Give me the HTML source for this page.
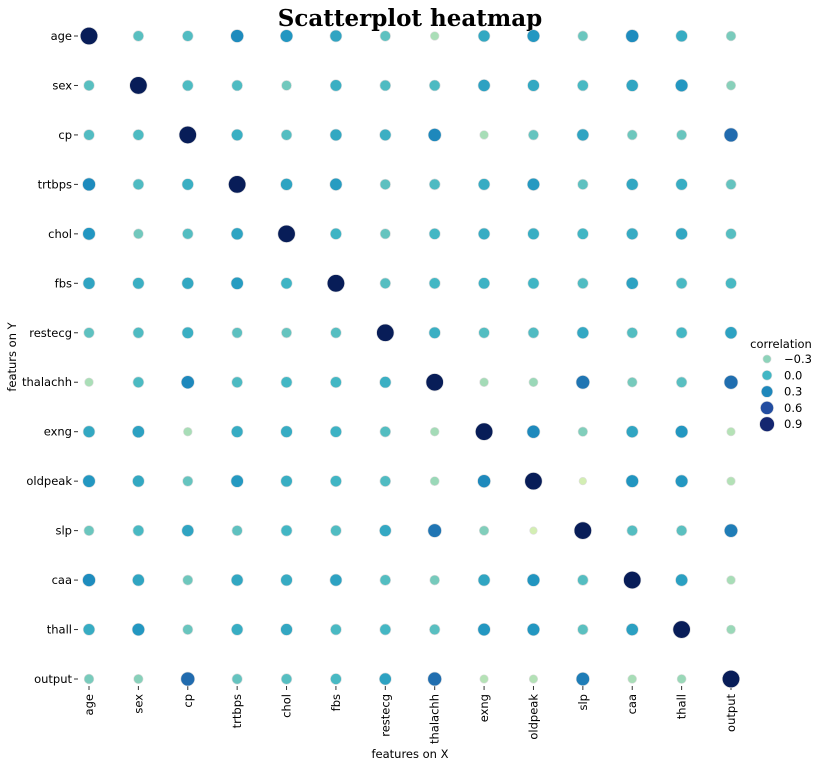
<!DOCTYPE html>
<html><head><meta charset="utf-8"><style>
body{margin:0;background:#fff;}
svg text{font-family:"DejaVu Sans","Liberation Sans",sans-serif;}
</style></head><body>
<svg id="chart" width="820" height="768" xmlns="http://www.w3.org/2000/svg">
<text x="410" y="26" text-anchor="middle" style="font-family:'DejaVu Serif','Liberation Serif',serif;font-weight:bold;font-size:23px">Scatterplot heatmap</text>
<g id="plot"></g>
<text x="410" y="758" text-anchor="middle" font-size="11.5">features on X</text>
<text transform="translate(16,357) rotate(-90)" text-anchor="middle" font-size="11.5">featurs on Y</text>
<g id="legend"></g>
</svg>
<script>
const features=["age","sex","cp","trtbps","chol","fbs","restecg","thalachh","exng","oldpeak","slp","caa","thall","output"];
const upper=[
[-0.098,-0.069,0.279,0.214,0.121,-0.116,-0.399,0.097,0.210,-0.169,0.276,0.068,-0.225],
[-0.049,-0.057,-0.198,0.045,-0.058,-0.044,0.142,0.096,-0.031,0.118,0.210,-0.281],
[0.048,-0.077,0.094,0.044,0.296,-0.394,-0.149,0.120,-0.181,-0.162,0.434],
[0.123,0.178,-0.114,-0.047,0.068,0.193,-0.121,0.101,0.062,-0.145],
[0.013,-0.151,-0.010,0.067,0.054,-0.004,0.071,0.099,-0.085],
[-0.084,-0.009,0.026,0.006,-0.060,0.138,-0.032,-0.028],
[0.044,-0.071,-0.059,0.093,-0.072,-0.012,0.137],
[-0.379,-0.344,0.387,-0.213,-0.096,0.422],
[0.288,-0.258,0.116,0.207,-0.437],
[-0.578,0.223,0.210,-0.431],
[-0.080,-0.105,0.346],
[0.152,-0.392],
[-0.344]
];
const legendValues=[-0.3,0.0,0.3,0.6,0.9];
const legendLabels=["\u22120.3","0.0","0.3","0.6","0.9"];

const NS="http://www.w3.org/2000/svg";
const n=features.length;
function corr(i,j){if(i===j)return 1;const a=Math.min(i,j),b=Math.max(i,j);return upper[a][b-a-1];}
const x0=89,x1=731,y0=36,y1=679;
function xPos(i){return x0+(x1-x0)*i/(n-1);}
function yPos(i){return y0+(y1-y0)*i/(n-1);}
function rad(v){return 3.8+4.9*(v+0.58)/1.58;}
const stops=["#ffffd9","#edf8b1","#c7e9b4","#7fcdbb","#41b6c4","#1d91c0","#225ea8","#253494","#081d58"];
function hex(h){return[1,3,5].map(k=>parseInt(h.substr(k,2),16));}
function color(v){let t=Math.min(1,Math.max(0,(v+1)/2))*(stops.length-1);let k=Math.min(stops.length-2,Math.floor(t));let f=t-k;const a=hex(stops[k]),b=hex(stops[k+1]);return "rgb("+a.map((c,q)=>Math.round(c+(b[q]-c)*f)).join(",")+")";}
function mk(tag,attrs,parent){const e=document.createElementNS(NS,tag);for(const k in attrs)e.setAttribute(k,attrs[k]);parent.appendChild(e);return e;}
const plot=document.getElementById("plot");
for(let i=0;i<n;i++){
  const ty=mk("text",{x:72,y:yPos(i)+4,"text-anchor":"end","font-size":"11.5"},plot);
  ty.textContent=features[i];
  
  
  mk("line",{x1:74,x2:78,y1:yPos(i),y2:yPos(i),stroke:"#333"},plot);
  const tx=mk("text",{transform:"translate("+(xPos(i)+4)+",694) rotate(-90)","text-anchor":"end","font-size":"11.5"},plot);
  tx.textContent=features[i];
  
  
  mk("line",{x1:xPos(i),x2:xPos(i),y1:686,y2:690,stroke:"#333"},plot);
}
for(let i=0;i<n;i++)for(let j=0;j<n;j++){
  const v=corr(i,j);
  const c=mk("circle",{cx:xPos(j),cy:yPos(i),r:rad(v),fill:color(v),stroke:"#ddd","stroke-width":0.6},plot);
  
  
}
const lg=document.getElementById("legend");
const lt=mk("text",{x:781,y:348,"text-anchor":"middle","font-size":"11.5"},lg);
lt.textContent="correlation";


legendValues.forEach((v,k)=>{
  const y=359+k*16.3;
  const c=mk("circle",{cx:767,cy:y,r:rad(v)*0.88,fill:color(v),stroke:"#ddd","stroke-width":0.6},lg);
  
  
  const t=mk("text",{x:784,y:y+4,"font-size":"11.5"},lg);
  t.textContent=legendLabels[k];
  
  
});
</script>
</body></html>
